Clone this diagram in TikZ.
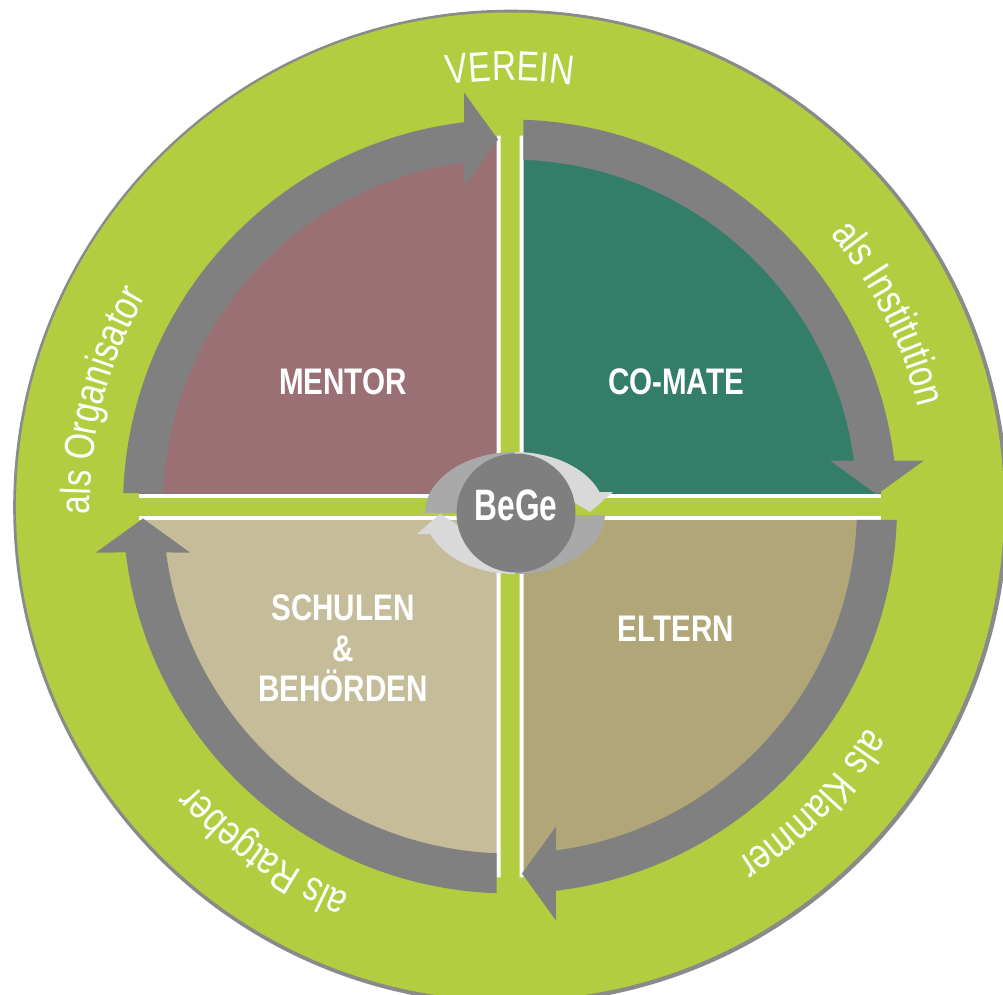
\documentclass[tikz,border=0pt]{standalone}
\usepackage{fontspec}
\setmainfont{Liberation Sans}
\newfontfamily\condfont{Liberation Sans}[FakeStretch=0.8]
\newfontfamily\begefont{Liberation Sans}[FakeStretch=0.72]
\usetikzlibrary{decorations.text}
\definecolor{ringgreen}{HTML}{B3CD40}
\definecolor{outlinegray}{HTML}{8A8A8A}
\definecolor{bandgray}{HTML}{808080}
\definecolor{mentorc}{HTML}{9A7074}
\definecolor{comatec}{HTML}{337D69}
\definecolor{schulenc}{HTML}{C5BD99}
\definecolor{elternc}{HTML}{B1A677}
\definecolor{midgray}{HTML}{A9A9A9}
\definecolor{palegray}{HTML}{D9D9D9}
\definecolor{coregray}{HTML}{7F7F7F}
\tikzset{
  quadlabel/.style={text=white, font=\condfont\bfseries\fontsize{37}{40}\selectfont, anchor=base, inner sep=0pt},
  ringlabel/.style={decorate, decoration={text along path, text align=center, text color=white,
      text={|\condfont\fontsize{42}{50}\selectfont|#1}}}
}
\newcommand\bandarrow{%
  \fill[bandgray] ({180-asin(13.5/387)}:387)
    arc[start angle={180-asin(13.5/387)}, end angle={90+asin(46/387)}, radius=387pt]
    -- (-46,414) -- (-12,367) -- (-46,320)
    -- ({90+asin(46/347)}:347)
    arc[start angle={90+asin(46/347)}, end angle={180-asin(13.5/347)}, radius=347pt]
    -- cycle;}
\newcommand\quadpiece[4]{% corner x sign, y sign, offset, colour
  \begin{scope}
    \clip ({#1*#3},{#2*#3}) rectangle ({#1*420},{#2*420});
    \fill[#4] (0,0) circle[radius=371pt];
  \end{scope}}
\begin{document}
\begin{tikzpicture}[x=1pt,y=1pt]
\useasboundingbox (-510,-487.5) rectangle (493,506.5);
\clip (-510,-487.5) rectangle (493,506.5);
\fill[white] (-510,-487.5) rectangle (493,506.5);
% outer ring
\fill[outlinegray] (0.7,-0.7) circle[radius=497.5pt];
\fill[ringgreen] (0,0) circle[radius=494pt];
% quadrants
\quadpiece{-1}{1}{9.5}{white}
\quadpiece{1}{1}{9.5}{white}
\quadpiece{1}{-1}{9.5}{white}
\quadpiece{-1}{-1}{9.5}{white}
\quadpiece{-1}{1}{13.5}{mentorc}
\quadpiece{1}{1}{13.5}{comatec}
\quadpiece{1}{-1}{13.5}{elternc}
\quadpiece{-1}{-1}{13.5}{schulenc}
% gray arrows
\bandarrow
\begin{scope}[rotate=-90]\bandarrow\end{scope}
\begin{scope}[rotate=-180]\bandarrow\end{scope}
\begin{scope}[rotate=-270]\bandarrow\end{scope}
% quadrant labels
\node[quadlabel] (mentor) at (-167,112) {MENTOR};
\node[quadlabel] (comate) at (166,112) {CO-MATE};
\node[quadlabel] (eltern) at (166,-135) {ELTERN};
\node[quadlabel] (schulen) at (-167,-114) {SCHULEN};
\node[quadlabel] (und) at (-167,-155) {\&};
\node[quadlabel] (behoerden) at (-167,-195) {BEHÖRDEN};
% centre emblem
\begin{scope}
  \clip (-200,-5.5) rectangle (5,200);
  \fill[midgray] (5,-6.5) ellipse[x radius=90pt, y radius=61pt];
\end{scope}
\begin{scope}
  \clip (5,14.5) rectangle (200,200);
  \fill[palegray] (5,-6.5) ellipse[x radius=90pt, y radius=61pt];
\end{scope}
\fill[palegray] (47,14.5) -- (103,14.5) -- (80,-5.5) -- cycle;
\begin{scope}
  \clip (5,-8.5) rectangle (200,-200);
  \fill[midgray] (5,-6.5) ellipse[x radius=90pt, y radius=61pt];
\end{scope}
\begin{scope}
  \clip (-200,-27.5) rectangle (5,-200);
  \fill[palegray] (5,-6.5) ellipse[x radius=90pt, y radius=61pt];
\end{scope}
\fill[palegray] (-93,-27.5) -- (-37,-27.5) -- (-70,-7.5) -- cycle;
\fill[coregray] (6,-6.5) circle[radius=59.5pt];
\node[text=white, font=\begefont\bfseries\fontsize{44}{48}\selectfont, anchor=base, inner sep=0pt] (bege) at (6,-13.5) {BeGe};
% ring texts
\path[ringlabel={VEREIN}] (120:426) arc[start angle=120, end angle=60, radius=426pt];
\path[ringlabel={als Institution}] (57:420) arc[start angle=57, end angle=-3, radius=420pt];
\path[ringlabel={als Klammer}] (-14.5:420) arc[start angle=-14.5, end angle=-74.5, radius=420pt];
\path[ringlabel={als Ratgeber}] (264.5:420) arc[start angle=264.5, end angle=204.5, radius=420pt];
\path[ringlabel={als Organisator}] (195.5:420) arc[start angle=195.5, end angle=135.5, radius=420pt];
\end{tikzpicture}
\end{document}
